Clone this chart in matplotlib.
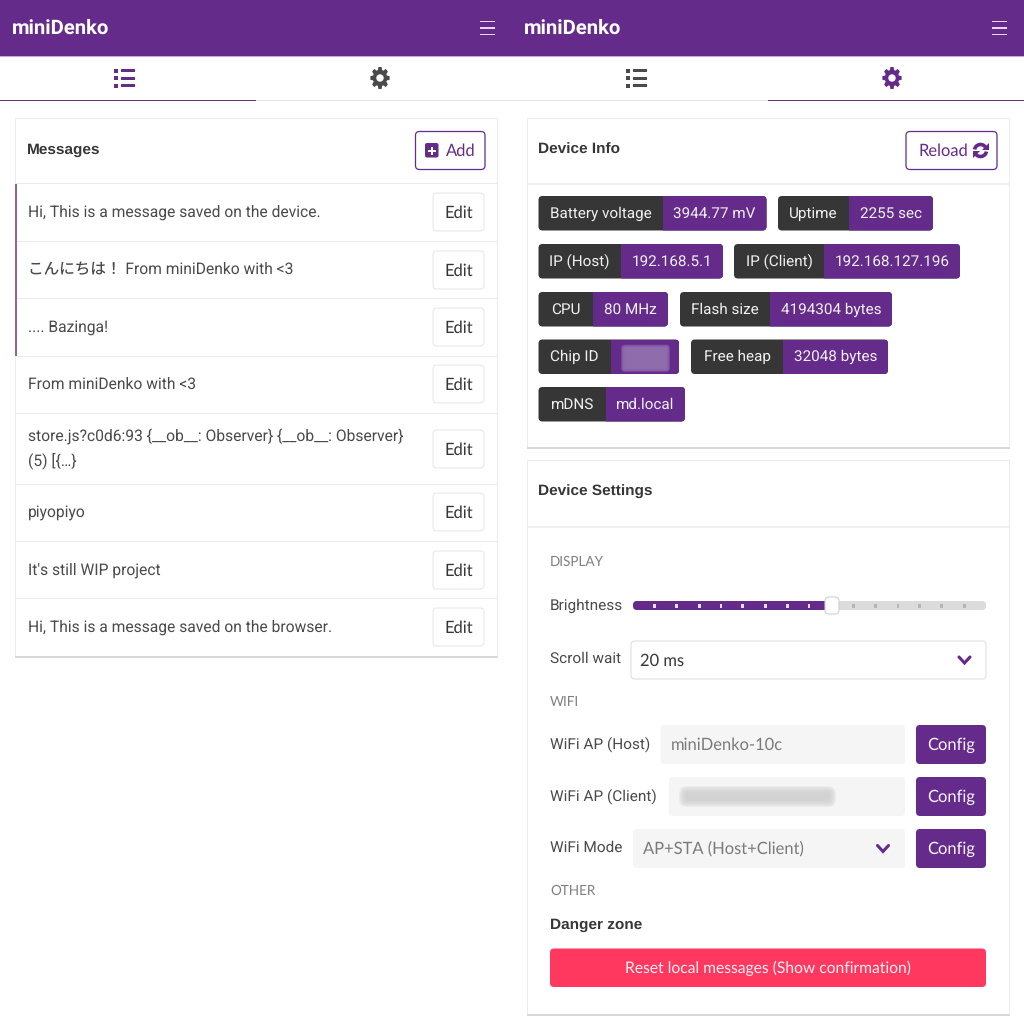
#!/usr/bin/env python3

import numpy as np
import matplotlib
matplotlib.use('Agg')
import matplotlib.pyplot as plt
from matplotlib.patches import FancyBboxPatch, Rectangle, PathPatch, Polygon, Arc, Circle
from matplotlib.path import Path

plt.rcParams['text.hinting'] = 'none'

PURPLE = '#652b8b'
DARK = '#363636'
BODY = '#4a4a4a'
BTN_FONT = ['Lato', 'DejaVu Sans']
TXT_FONT = ['Roboto', 'Noto Sans CJK JP', 'DejaVu Sans']
HEAD_FONT = ['Liberation Sans', 'DejaVu Sans']

# contents
app_title = 'miniDenko'
messages = [
    'Hi, This is a message saved on the device.',
    'こんにちは！ From miniDenko with <3',
    '.... Bazinga!',
    'From miniDenko with <3',
    'store.js?c0d6:93 {__ob__: Observer} {__ob__: Observer}\n(5) [{…}',
    'piyopiyo',
    "It's still WIP project",
    'Hi, This is a message saved on the browser.',
]
badge_labels = ['Battery voltage', 'Uptime', 'IP (Host)', 'IP (Client)', 'CPU',
                'Flash size', 'Chip ID', 'Free heap', 'mDNS']
badge_values = ['3944.77 mV', '2255 sec', '192.168.5.1', '192.168.127.196',
                '80 MHz', '4194304 bytes', '', '32048 bytes', 'md.local']
section_titles = ['DISPLAY', 'WIFI', 'OTHER']
wifi_labels = ['WiFi AP (Host)', 'WiFi AP (Client)', 'WiFi Mode']
wifi_fields = ['miniDenko-10c', '', 'AP+STA (Host+Client)']

# layout, in screenshot pixels
row_lines = [183, 241, 298, 356, 413, 484, 541, 598]
row_text_y = [211, 268, 326, 383, 447, 511, 569, 626]
edit_tops = [193, 251, 308, 365, 430, 493, 551, 608]
# x0, split, x1, top
badge_boxes = [
    (538.5, 662.5, 766.5, 196), (778, 849, 933, 196),
    (538.5, 621, 723, 244), (734, 824, 960, 244),
    (538.5, 593, 668, 292), (680, 770, 892, 292),
    (538.5, 611, 679, 339.5), (691, 783, 888, 339.5),
    (538.5, 606, 685, 387),
]
slider_ticks_on = [654.7, 676.3, 699.3, 721, 742.7, 765.7, 787.3, 809]
slider_ticks_off = [853.3, 875.3, 898, 919.7, 941.7, 964.3]
section_y = [561, 702, 890]
wifi_y = [743, 795, 847]
wifi_tops = [725, 777, 829]
wifi_left = [660.5, 669, 633]

fig = plt.figure(figsize=(10.24, 10.24), dpi=100)
ax = fig.add_axes([0, 0, 1, 1])
ax.set_xlim(0, 1024)
ax.set_ylim(1024, 0)
ax.axis('off')


def px(size):
    return size * 72 / 100


def text(x, y, s, size=16, color=BODY, family=TXT_FONT, ha='left', weight='normal', **kw):
    return ax.text(x, y + 1.5, s, fontsize=px(size), color=color, family=family, ha=ha,
                   va='center', fontweight=weight, zorder=6, **kw)


def rect(x0, y0, x1, y1, color, z=2):
    ax.add_patch(Rectangle((x0, y0), x1 - x0, y1 - y0, fc=color, ec='none', zorder=z))


def rbox(x0, y0, x1, y1, fc, ec='none', lw=0, r=4, z=3, alpha=None):
    p = FancyBboxPatch((x0, y0), x1 - x0, y1 - y0, boxstyle='round,pad=0,rounding_size=%g' % r,
                       fc=fc, ec=ec, lw=lw, zorder=z, alpha=alpha)
    ax.add_patch(p)
    return p


def gear(cx, cy, color, r=11.2):
    angles = np.linspace(0, 2 * np.pi, 8, endpoint=False)
    verts = []
    for a in angles:
        for da, rad in ((-0.30, 0.74), (-0.16, 1.0), (0.16, 1.0), (0.30, 0.74)):
            verts.append((cx + 0.87 * r * rad * np.sin(a + da), cy - r * rad * np.cos(a + da)))
    verts.append(verts[0])
    codes = [Path.MOVETO] + [Path.LINETO] * (len(verts) - 2) + [Path.CLOSEPOLY]
    ax.add_patch(PathPatch(Path(verts, codes), fc=color, ec='none', zorder=5))
    ax.add_patch(Circle((cx, cy), r * 0.33, fc='white', ec='none', zorder=5.5))


def list_icon(cx, cy, color):
    for dy in (-7.5, 0, 7.5):
        rect(cx - 10, cy + dy - 2, cx - 6, cy + dy + 2, color, 5)
        rect(cx - 3.5, cy + dy - 1.5, cx + 10.5, cy + dy + 1.5, color, 5)


def chevron(cx, cy, color):
    ax.plot([cx - 5.5, cx, cx + 5.5], [cy - 3, cy + 3, cy - 3], color=color, lw=2.2,
            solid_capstyle='round', solid_joinstyle='miter', zorder=5)


def card(x0, y0, x1, y1):
    rect(x0 - 0.5, y0 - 0.5, x1 + 0.5, y1 + 1, '#ececec', 1)
    rect(x0 - 0.5, y1, x1 + 0.5, y1 + 1.5, '#d8d8d8', 1.2)
    rect(x0 + 0.5, y0 + 0.5, x1 - 0.5, y1, 'white', 1.5)


def blur(x0, y0, x1, y1, color, steps=10, spread=8, alpha=0.14):
    for i in range(steps):
        d = spread * (1 - i / (steps - 1)) - spread / 2
        rbox(x0 - d, y0 - d, x1 + d, y1 + d, color, r=max(1, spread / 2 + d), z=6, alpha=alpha)


def panel_top(offset, active):
    rect(offset, 0, offset + 512, 56, PURPLE)
    rect(offset, 56, offset + 512, 57, '#c9a6de')
    text(offset + 12, 26.5, app_title, size=20.3, color='white', family=['Roboto', 'DejaVu Sans'], weight='bold')
    for y in (21.5, 28, 34.5):
        rect(offset + 480, y - 0.6, offset + 495, y + 0.6, '#e6d8ee', 5)
    rect(offset, 99.5, offset + 512, 101, '#e2e2e2')
    rect(offset + active * 256, 99.5, offset + active * 256 + 256, 101, PURPLE, 3)
    list_icon(offset + 124, 78, PURPLE if active == 0 else '#4a4a4a')
    gear(offset + 380, 78, PURPLE if active == 1 else '#4a4a4a')


panel_top(0, 0)
panel_top(512, 1)

# Messages card
card(15, 118, 497, 656)
text(26.5, 148.5, 'Messages', size=15.4, color=DARK, family=HEAD_FONT, weight='bold')
rbox(415.5, 131.5, 485, 169.5, 'white', ec=PURPLE, lw=0.9)
rbox(425, 143, 438.5, 157.5, PURPLE, r=2, z=5)
rect(428, 149.5, 435.5, 151.5, 'white', 6)
rect(430.7, 146.5, 432.7, 154.5, 'white', 6)
text(446, 150, 'Add', size=16.5, color=PURPLE, family=BTN_FONT)
for y in row_lines:
    rect(15.5, y, 496.5, y + 1.3, '#ebebeb', 2)
rect(15, 184, 16.5, 356, '#8d63aa', 3)
for msg, y, top in zip(messages, row_text_y, edit_tops):
    text(27.5, y, msg, size=15.6, linespacing=1.58)
    rbox(433, top, 484, top + 38, 'white', ec='#e8e8e8', lw=0.8)
    text(458.5, top + 19, 'Edit', size=16.5, color=DARK, family=BTN_FONT, ha='center')

# Device info card
card(527, 118, 1009, 447)
rect(527.5, 183, 1008.5, 184.5, '#f0f0f0', 2)
text(538.5, 148.5, 'Device Info', size=15.4, color=DARK, family=HEAD_FONT, weight='bold')
rbox(906, 131.5, 997, 169.5, 'white', ec=PURPLE, lw=0.9)
text(918, 150, 'Reload', size=16.5, color=PURPLE, family=BTN_FONT)
ax.add_patch(Arc((980.5, 150.5), 12, 12, theta1=190, theta2=330, ec=PURPLE, lw=2.6, zorder=5))
ax.add_patch(Arc((980.5, 150.5), 12, 12, theta1=10, theta2=150, ec=PURPLE, lw=2.6, zorder=5))
ax.add_patch(Polygon([(988.5, 143), (988.5, 150), (981.5, 150)], fc=PURPLE, ec='none', zorder=5))
ax.add_patch(Polygon([(972.5, 158), (972.5, 151), (979.5, 151)], fc=PURPLE, ec='none', zorder=5))

for label, value, (x0, split, x1, top) in zip(badge_labels, badge_values, badge_boxes):
    shape = rbox(x0, top, x1, top + 34.5, DARK, r=4)
    right = Rectangle((split, top), x1 - split, 34.5, fc=PURPLE, ec='none', zorder=4)
    ax.add_patch(right)
    right.set_clip_path(shape)
    text((x0 + split) / 2, top + 16, label, size=15.3, color='#f0f0f0', ha='center')
    if value:
        text((split + x1) / 2, top + 16, value, size=15.3, color='#f0f0f0', ha='center')
blur(623, 346.5, 668, 370, '#9270b0', spread=4, alpha=0.3)

# Device settings card
card(527, 460, 1009, 1014)
rect(527.5, 526, 1008.5, 527.5, '#f0f0f0', 2)
text(538.5, 490.5, 'Device Settings', size=15.4, color=DARK, family=HEAD_FONT, weight='bold')
for name, y in zip(section_titles, section_y):
    text(550, y - 1, name, size=13.5, color='#808080', family=BTN_FONT)

text(550, 604, 'Brightness', size=15.4)
rbox(633, 601, 986, 610, '#dbdbdb', r=4)
rbox(633, 601, 832, 610, PURPLE, r=4, z=3.2)
for x in slider_ticks_on:
    rect(x - 1.3, 603.5, x + 1.3, 608, '#e8dcef', 4)
for x in slider_ticks_off:
    rect(x - 1.3, 603.5, x + 1.3, 608, '#b5b5b5', 4)
rbox(825, 597, 839, 614, 'white', ec='#d0d0d0', lw=0.8, r=4, z=5)

text(550, 657.5, 'Scroll wait', size=15.4)
rbox(631, 641, 986, 679, 'white', ec='#e0e0e0', lw=0.8)
text(640, 659.5, '20 ms', size=16.5, color=DARK, family=BTN_FONT)
chevron(964.5, 660, PURPLE)

for label, field, y, top, left in zip(wifi_labels, wifi_fields, wifi_y, wifi_tops, wifi_left):
    text(550, y - 0.5, label, size=15.4)
    rbox(left, top, 905, top + 39, '#f5f5f5', r=4)
    if field:
        text(left + 10, top + 18.5, field, size=16.5, color='#7a7a7a', family=BTN_FONT)
    rbox(916, top, 986, top + 39, PURPLE, r=4)
    text(951, top + 18.5, 'Config', size=16.5, color='#f8f4fa', family=BTN_FONT, ha='center')
chevron(883, 848.5, PURPLE)
blur(683, 790, 832, 803, '#cfcfcf', alpha=0.2)

text(550, 924, 'Danger zone', size=15.4, color=DARK, family=HEAD_FONT, weight='bold')
rbox(550, 948.5, 986, 987, '#ff3860', r=4)
text(768, 966.5, 'Reset local messages (Show confirmation)', size=15.6, color='#fff0f3',
     family=BTN_FONT, ha='center')

fig.savefig('out.png', dpi=100, facecolor='white')
